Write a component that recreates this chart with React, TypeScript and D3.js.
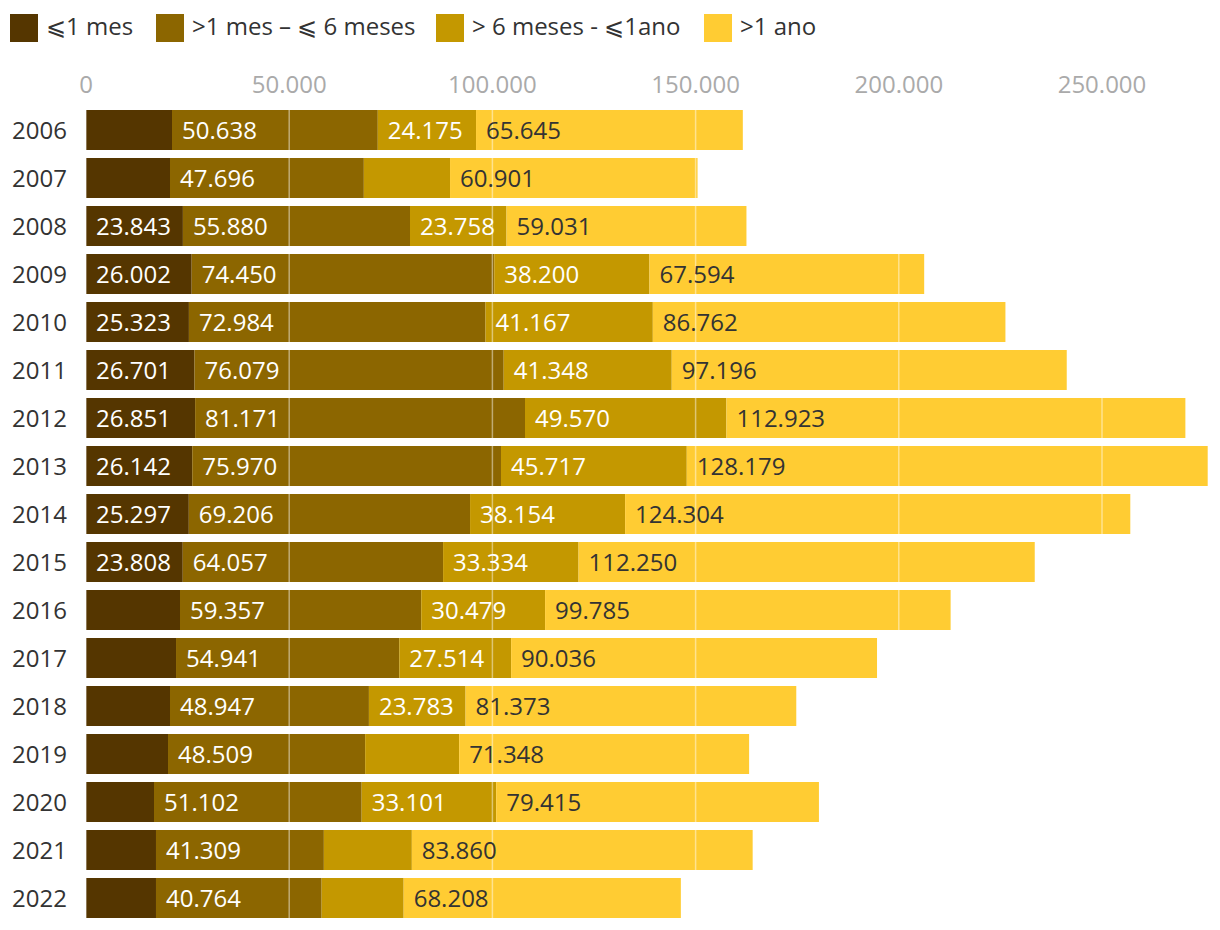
import React from "react";
import * as d3 from "d3";

const years = ["2006","2007","2008","2009","2010","2011","2012","2013","2014","2015","2016","2017","2018","2019","2020","2021","2022"];
const upTo1Month = [21160,20670,23843,26002,25323,26701,26851,26142,25297,23808,23130,22150,20670,20180,16730,17220,17220];
const oneToSixMonths = [50638,47696,55880,74450,72984,76079,81171,75970,69206,64057,59357,54941,48947,48509,51102,41309,40764];
const sixMonthsToYear = [24175,21210,23758,38200,41167,41348,49570,45717,38154,33334,30479,27514,23783,23130,33101,21650,20180];
const overOneYear = [65645,60901,59031,67594,86762,97196,112923,128179,124304,112250,99785,90036,81373,71348,79415,83860,68208];
const seriesNames = ["⩽1 mes", ">1 mes – ⩽ 6 meses", "> 6 meses - ⩽1ano", ">1 ano"];
const seriesColors = ["#553600", "#8c6600", "#c49800", "#ffcc33"];
const labelColors = ["#ffffff", "#ffffff", "#ffffff", "#333333"];
const xTicks = [0, 50000, 100000, 150000, 200000, 250000];
const legendX = [10, 156, 436, 704];
const labelThreshold = 23500;

const fmt = (v: number) => d3.format(",")(v).replace(/,/g, ".");

export default function App() {
  const width = 1220, height = 930;
  const font = "'Open Sans', sans-serif";
  const fs = 24;
  const x = d3.scaleLinear().domain([0, 250000]).range([86, 1102]);
  const y = d3.scaleBand().domain(years).range([106, 922]).paddingInner(8 / 48).paddingOuter(4 / 48);
  const allSeries = [upTo1Month, oneToSixMonths, sixMonthsToYear, overOneYear];
  const rows = years.map((yr, i) => {
    const vals = allSeries.map(s => s[i]);
    let acc = 0;
    return { yr, segs: vals.map((v, k) => { const s = { k, v, x0: acc, x1: acc + v }; acc += v; return s; }) };
  });
  return (
    <svg width={width} height={height} style={{ display: "block", position: "absolute", left: 0, top: 0 }} fontFamily={font}>
      {seriesNames.map((n, k) => (
        <g key={n}>
          <rect x={legendX[k]} y={14} width={28} height={28} fill={seriesColors[k]} />
          <text x={legendX[k] + 36} y={35} fontSize={fs} fill="#333">{n}</text>
        </g>
      ))}
      {xTicks.map(t => (
        <text key={t} x={x(t)} y={93} fontSize={fs} fill="#aaaaaa" textAnchor="middle">{fmt(t)}</text>
      ))}
      {rows.map(r => (
        <g key={r.yr}>
          <text x={67} y={(y(r.yr) as number) + y.bandwidth() / 2 + 8.5} fontSize={fs} fill="#333" textAnchor="end">{r.yr}</text>
          {r.segs.map(s => (
            <rect key={s.k} x={x(s.x0)} y={y(r.yr)} width={x(s.x1) - x(s.x0)} height={y.bandwidth()} fill={seriesColors[s.k]} />
          ))}
        </g>
      ))}
      {xTicks.map(t => (
        <line key={"g" + t} x1={x(t)} x2={x(t)} y1={106} y2={922} stroke="#ffffff" strokeOpacity={0.45} strokeWidth={1.5} />
      ))}
      {rows.map(r => (
        <g key={"l" + r.yr}>
          {r.segs.filter(s => s.v >= labelThreshold).map(s => (
            <text key={s.k} x={x(s.x0) + 10} y={(y(r.yr) as number) + y.bandwidth() / 2 + 8.5} fontSize={fs} fill={labelColors[s.k]}>{fmt(s.v)}</text>
          ))}
        </g>
      ))}
    </svg>
  );
}
